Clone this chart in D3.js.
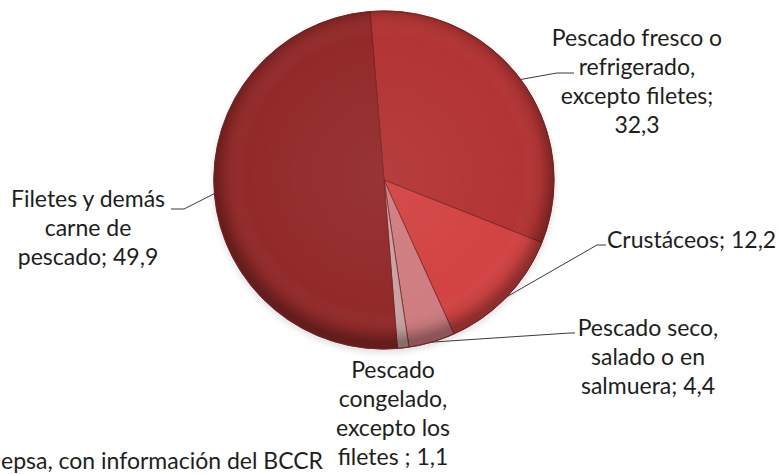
<!DOCTYPE html>
<html>
<head>
<meta charset="utf-8">
<script src="https://cdn.jsdelivr.net/npm/d3@7"></script>
<style>
  body { margin: 0; background: #fff; }
  svg { display: block; }
  .lbl { font-family: Lato, "Open Sans", sans-serif; font-size: 23px; fill: #1e1e1e; }
  .leader { fill: none; stroke: #3a3a3a; stroke-width: 1; }
</style>
</head>
<body>
<svg id="chart" width="781" height="474"></svg>
<script>
// data (percent)
const categories = [
    'Pescado fresco o refrigerado, excepto filetes',
    'Crustáceos',
    'Pescado seco, salado o en salmuera',
    'Pescado congelado, excepto los filetes',
    'Filetes y demás carne de pescado'
];
const values = [32.3, 12.2, 4.4, 1.1, 49.9];
const labelLines = [
    ['Pescado fresco o', 'refrigerado,', 'excepto filetes;', '32,3'],
    ['Crustáceos; 12,2'],
    ['Pescado seco,', 'salado o en', 'salmuera; 4,4'],
    ['Pescado', 'congelado,', 'excepto los', 'filetes ; 1,1'],
    ['Filetes y demás', 'carne de', 'pescado; 49,9']
];
// the source note is cut at the left edge in the picture
const sourceText = 'epsa, con información del BCCR';

const colors = ['#b33434', '#d24343', '#cf7d80', '#c9a2a2', '#932a2a'];

// layout
const cx = 384, cy = 180, rx = 170, ry = 169;
const lineH = 29;
// text anchor (x, first baseline, anchor), leader elbow points
const labelLayout = [
    { x: 637, y: 46, anchor: 'middle', elbow: [[557, 73], [574, 73]] },
    { x: 607, y: 248, anchor: 'start', elbow: [[597, 245], [606, 245]] },
    { x: 648, y: 336, anchor: 'middle', elbow: [[570, 333], [575, 333]] },
    { x: 393, y: 378, anchor: 'middle', elbow: null },
    { x: 88, y: 207, anchor: 'middle', elbow: [[184, 209], [171, 209]] }
];

const svg = d3.select('#chart');
const defs = svg.append('defs');

const shade = defs.append('radialGradient')
    .attr('id', 'shade')
    .attr('cx', '50%').attr('cy', '48%').attr('r', '50%');
shade.append('stop').attr('offset', '0%').attr('stop-color', '#fff').attr('stop-opacity', 0.05);
shade.append('stop').attr('offset', '82%').attr('stop-color', '#fff').attr('stop-opacity', 0);
shade.append('stop').attr('offset', '93%').attr('stop-color', '#000').attr('stop-opacity', 0.07);
shade.append('stop').attr('offset', '100%').attr('stop-color', '#000').attr('stop-opacity', 0.32);

const pie = d3.pie()
    .sort(null)
    .startAngle(-0.082)
    .endAngle(-0.082 + 2 * Math.PI)
    .value(d => d);

const arcs = pie(values);
const arc = d3.arc().innerRadius(0).outerRadius(1);

// soft drop shadow under the pie
svg.append('ellipse')
    .attr('cx', cx).attr('cy', cy + 3)
    .attr('rx', rx + 1).attr('ry', ry + 1)
    .attr('fill', '#000')
    .attr('opacity', 0.12)
    .style('filter', 'blur(3px)');

const g = svg.append('g')
    .attr('transform', `translate(${cx},${cy}) scale(${rx},${ry})`);

g.selectAll('path.slice')
    .data(arcs)
    .enter()
    .append('path')
    .classed('slice', true)
    .attr('d', arc)
    .attr('fill', (_, i) => colors[i])
    .attr('stroke', '#6e1d1d')
    .attr('stroke-width', 1)
    .attr('stroke-opacity', 0.7)
    .attr('vector-effect', 'non-scaling-stroke');

// bevel shading over the slices
g.append('circle')
    .attr('r', 1)
    .attr('fill', 'url(#shade)')
    .attr('stroke', '#7a2222')
    .attr('stroke-width', 1)
    .attr('vector-effect', 'non-scaling-stroke');

// point on the rim at the middle of a slice
const rimPoint = d => {
    const a = (d.startAngle + d.endAngle) / 2;
    return [cx + rx * Math.sin(a), cy - ry * Math.cos(a)];
};

const labels = svg.append('g');

arcs.forEach((d, i) => {
    const lay = labelLayout[i];
    if (lay.elbow) {
        labels.append('path')
            .classed('leader', true)
            .attr('d', d3.line()([rimPoint(d), ...lay.elbow]));
    }
    const t = labels.append('text')
        .classed('lbl', true)
        .attr('text-anchor', lay.anchor);
    labelLines[i].forEach((line, k) => {
        t.append('tspan')
            .attr('x', lay.x)
            .attr('y', lay.y + k * lineH)
            .text(line);
    });
});

svg.append('text')
    .classed('lbl', true)
    .attr('x', 1)
    .attr('y', 469)
    .text(sourceText);
</script>
</body>
</html>
